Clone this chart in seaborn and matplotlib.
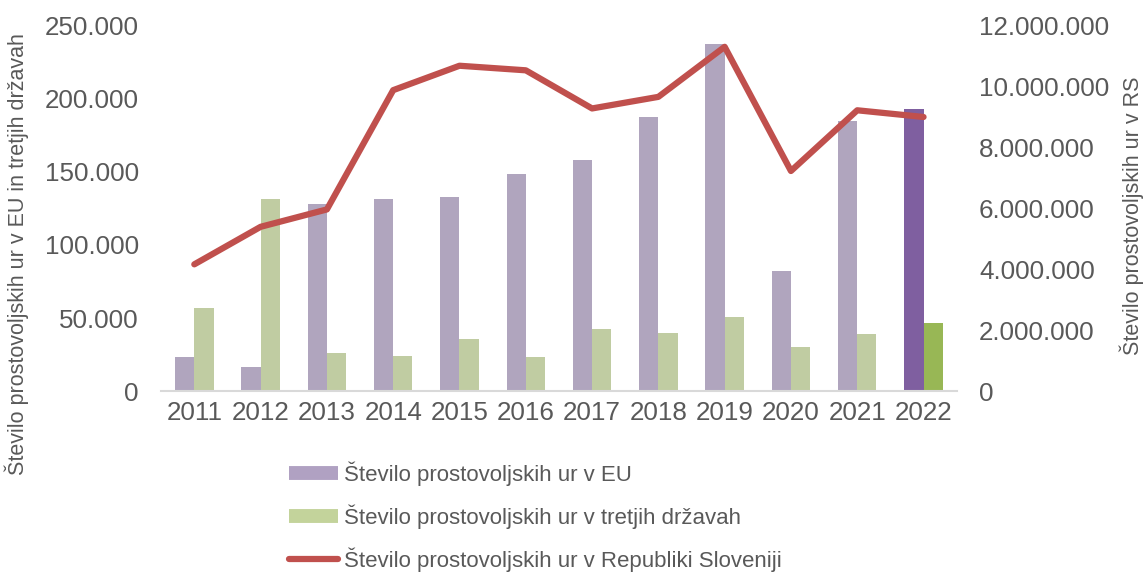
import matplotlib
matplotlib.use("Agg")
import matplotlib.pyplot as plt
from matplotlib.ticker import FuncFormatter, MultipleLocator
from matplotlib.lines import Line2D
import seaborn as sns
import pandas as pd
import numpy as np

# podatki
years = ["2011", "2012", "2013", "2014", "2015", "2016",
         "2017", "2018", "2019", "2020", "2021", "2022"]
ure_eu = [23500, 16600, 127600, 131000, 132900, 148600,
          157800, 187200, 237400, 82000, 184500, 193000]
ure_tretje = [57000, 131000, 26000, 24400, 35400, 23500,
              42200, 40000, 50900, 30400, 39000, 46800]
ure_rs = [4160000, 5390000, 5960000, 9870000, 10670000, 10520000,
          9270000, 9650000, 11290000, 7220000, 9210000, 8990000]

lbl_eu = "Število prostovoljskih ur v EU"
lbl_tretje = "Število prostovoljskih ur v tretjih državah"
lbl_rs = "Število prostovoljskih ur v Republiki Sloveniji"

c_eu, c_eu_dark = "#B0A1C2", "#7F5FA0"
c_tr, c_tr_dark = "#C3D39B", "#98B755"
c_rs = "#C0504D"
txt = "#595959"

sns.set_style("white")
plt.rcParams["font.family"] = ["Liberation Sans", "DejaVu Sans"]

df = pd.DataFrame({
    "leto": years * 2,
    "ure": ure_eu + ure_tretje,
    "serija": [lbl_eu] * len(years) + [lbl_tretje] * len(years),
})

fig = plt.figure(figsize=(11.43, 5.72), dpi=100)
ax = fig.add_axes([0.141, 0.316, 0.696, 0.640])

sns.barplot(data=df, x="leto", y="ure", hue="serija",
            palette=[c_eu, c_tr], width=0.58, linewidth=0,
            ax=ax, legend=False)

# 2022 temnejša barva
ax.containers[0][-1].set_facecolor(c_eu_dark)
ax.containers[1][-1].set_facecolor(c_tr_dark)

ax.set_ylim(0, 250000)
ax.yaxis.set_major_locator(MultipleLocator(50000))
fmt = FuncFormatter(lambda v, p: f"{int(v):,}".replace(",", "."))
ax.yaxis.set_major_formatter(fmt)
ax.set_xlabel("")
ax.set_ylabel("Število prostovoljskih ur v EU in tretjih državah",
              fontsize=15.5, color=txt)
ax.yaxis.set_label_coords(-0.166, 0.374)
ax.tick_params(axis="both", labelsize=18.7, colors=txt, length=0)
ax.tick_params(axis="y", pad=16)
ax.tick_params(axis="x", pad=7)
for s in ["top", "left", "right"]:
    ax.spines[s].set_visible(False)
ax.spines["bottom"].set_color("#D9D9D9")
ax.spines["bottom"].set_linewidth(1.5)

ax2 = ax.twinx()
sns.lineplot(x=np.arange(len(years)), y=ure_rs, color=c_rs, linewidth=4.5,
             ax=ax2, solid_capstyle="round", solid_joinstyle="round")
ax2.set_ylim(0, 12000000)
ax2.yaxis.set_major_locator(MultipleLocator(2000000))
ax2.yaxis.set_major_formatter(fmt)
ax2.set_ylabel("Število prostovoljskih ur v RS", fontsize=15.5, color=txt)
ax2.yaxis.set_label_coords(1.205, 0.48)
ax2.tick_params(axis="y", labelsize=18.7, colors=txt, length=0, pad=16)
for s in ["top", "left", "right", "bottom"]:
    ax2.spines[s].set_visible(False)
ax.set_xlim(-0.5, len(years) - 0.5)

handles = [
    Line2D([], [], color=c_eu, linewidth=10, solid_capstyle="butt"),
    Line2D([], [], color=c_tr, linewidth=10, solid_capstyle="butt"),
    Line2D([], [], color=c_rs, linewidth=4.5, solid_capstyle="round"),
]
fig.legend(handles, [lbl_eu, lbl_tretje, lbl_rs], loc="upper left",
           bbox_to_anchor=(0.253, 0.193), frameon=False, fontsize=16,
           labelcolor=txt, handlelength=2.2, handletextpad=0.25,
           labelspacing=0.82, borderaxespad=0, borderpad=0)

plt.savefig("out.png", dpi=100)
